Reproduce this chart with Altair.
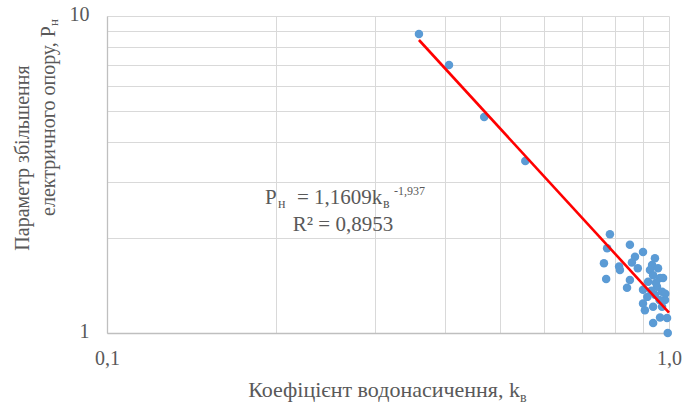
import altair as alt
import pandas as pd

# ---- data ----
kv = [0.359, 0.406, 0.469, 0.555,
      0.785, 0.776, 0.766, 0.773, 0.852, 0.899, 0.870, 0.859,
      0.815, 0.818, 0.842, 0.852, 0.944, 0.933, 0.925, 0.937,
      0.918, 0.964, 0.976, 0.899, 0.952, 0.972, 0.944, 0.984,
      0.899, 0.906, 0.937, 0.972, 0.964, 0.992, 0.937, 0.995,
      0.956, 0.948, 0.985, 0.930, 0.880, 0.962, 0.915]
pn = [8.77, 7.00, 4.80, 3.49,
      2.05, 1.85, 1.66, 1.48, 1.90, 1.80, 1.74, 1.67,
      1.62, 1.58, 1.39, 1.47, 1.72, 1.64, 1.58, 1.52,
      1.45, 1.49, 1.49, 1.37, 1.40, 1.35, 1.32, 1.27,
      1.24, 1.18, 1.21, 1.21, 1.12, 1.115, 1.075, 1.00,
      1.60, 1.44, 1.33, 1.36, 1.60, 1.27, 1.30]

trend_kv = [0.359, 1.0]
trend_pn = [8.40, 1.16]

x_grid = [0.1, 0.2, 0.3, 0.4, 0.5, 0.6, 0.7, 0.8, 0.9, 1.0]
y_grid = [1, 2, 3, 4, 5, 6, 7, 8, 9, 10]
x_tick_values = [0.1, 1.0]
x_tick_labels = ["0,1", "1,0"]
y_tick_values = [1, 10]
y_tick_labels = ["1", "10"]

x_title_main = "Коефіцієнт водонасичення, k"
x_title_sub = "в"
y_title_line1 = "Параметр збільшення"
y_title_line2_main = "електричного опору, P"
y_title_line2_sub = "н"
eq_parts = ["P", "н", "= 1,1609k", "в", "-1,937"]
r2_text = "R² = 0,8953"

FONT = "Liberation Serif"
TXT = "#595959"
GRID = "#d9d9d9"


def label_expr(values, labels):
    expr = "''"
    for v, l in zip(values, labels):
        expr = f"(abs(datum.value - {v}) < 1e-9 ? '{l}' : {expr})"
    return expr


pts = pd.DataFrame({"kv": kv, "pn": pn})
trend = pd.DataFrame({"kv": trend_kv, "pn": trend_pn})

xscale = alt.Scale(type="log", domain=[0.1, 1.0], nice=False)
yscale = alt.Scale(type="log", domain=[1, 10], nice=False)

xaxis = alt.Axis(values=x_grid, labelExpr=label_expr(x_tick_values, x_tick_labels),
                 grid=True, gridColor=GRID, gridWidth=1, ticks=False,
                 domainColor="#bfbfbf", domainWidth=1.3,
                 labelFont=FONT, labelFontSize=20, labelColor=TXT,
                 labelPadding=15, labelOverlap=False, labelFlush=False, title=None)
yaxis = alt.Axis(values=y_grid, labelExpr=label_expr(y_tick_values, y_tick_labels),
                 grid=True, gridColor=GRID, gridWidth=1, ticks=False,
                 domainColor="#bfbfbf", domainWidth=1.3,
                 labelFont=FONT, labelFontSize=20, labelColor=TXT,
                 labelPadding=18, labelOffset=-2, labelOverlap=False, labelFlush=False,
                 title=None)

points = alt.Chart(pts).mark_circle(size=72, color="#5b9bd5", opacity=1).encode(
    x=alt.X("kv:Q", scale=xscale, axis=xaxis),
    y=alt.Y("pn:Q", scale=yscale, axis=yaxis),
)

line = alt.Chart(trend).mark_line(color="#ff0000", strokeWidth=2.6).encode(
    x=alt.X("kv:Q", scale=xscale),
    y=alt.Y("pn:Q", scale=yscale),
)

one = pd.DataFrame({"a": [0]})


def txt(text, x, y, size, align="left", baseline="alphabetic", angle=0, dx=0, dy=0):
    kw = dict(text=text, font=FONT, fontSize=size, color=TXT, align=align,
              baseline=baseline, dx=dx, dy=dy)
    if angle:
        kw["angle"] = angle
    return alt.Chart(one).mark_text(**kw).encode(x=alt.value(x), y=alt.value(y))


# equation annotation (view coordinates)
ex, ey = 158, 188
eq = [
    txt(eq_parts[0], ex, ey, 21),
    txt(eq_parts[1], ex, ey, 14, dx=13, dy=4),
    txt(eq_parts[2], ex, ey, 21, dx=32),
    txt(eq_parts[3], ex, ey, 14, dx=118, dy=4),
    txt(eq_parts[4], ex, ey, 12, dx=129, dy=-9),
    txt(r2_text, 236, 215, 21, align="center"),
]

# x title
xt_anchor = 413
xtitle = [
    txt(x_title_main, xt_anchor, 381, 22, align="right"),
    txt(x_title_sub, xt_anchor, 381, 14, dx=0, dy=5),
]

# y title (rotated)
ytitle = [
    txt(y_title_line1, -84, 142, 20, align="center", baseline="middle", angle=270),
    txt(y_title_line2_main, -58, 10, 20, align="right", baseline="middle", angle=270),
    txt(y_title_line2_sub, -58, 10, 13, align="left", baseline="middle", angle=270, dy=5),
]

chart = alt.layer(points, line, *eq, *xtitle, *ytitle).properties(
    width=562, height=317,
    autosize=alt.AutoSizeParams(type="none"),
    padding={"left": 107, "top": 16, "right": 13, "bottom": 72},
    background="white",
).configure_view(strokeWidth=0)

chart.save("out.html", embed_options={"renderer": "svg", "actions": False})
